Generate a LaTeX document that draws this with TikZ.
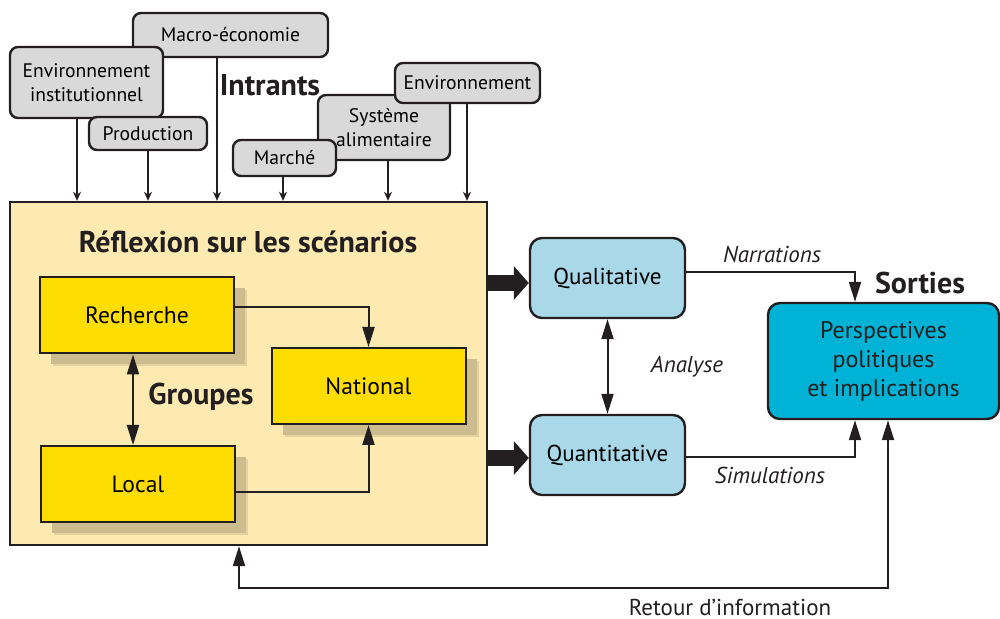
\documentclass[tikz,border=0pt]{standalone}
\usepackage{fontspec}
\setmainfont{PT Sans}
\usetikzlibrary{arrows.meta,shadows}
\definecolor{ink}{HTML}{231F20}
\definecolor{inbox}{HTML}{D9D9D9}
\definecolor{cream}{HTML}{FCEAB0}
\definecolor{gold}{HTML}{FFDD00}
\definecolor{shade}{HTML}{CDBD8E}
\definecolor{sky}{HTML}{A9D9E8}
\definecolor{cyan}{HTML}{00B3D6}
\tikzset{
  intrant/.style={draw=ink, fill=inbox, line width=1.2pt, rounded corners=4pt,
    align=center, inner sep=0pt, font=\fontsize{9.8}{12}\selectfont},
  groupe/.style={draw=ink, fill=gold, line width=1pt, minimum width=97pt,
    minimum height=38pt, font=\fontsize{11.8}{14}\selectfont,
    drop shadow={shadow xshift=6.5pt, shadow yshift=-6.5pt, fill=shade, opacity=0.5},
    drop shadow={shadow xshift=5.5pt, shadow yshift=-5.5pt, fill=shade, opacity=1}},
  methode/.style={draw=ink, fill=sky, line width=1.2pt, rounded corners=6pt,
    minimum width=77.5pt, minimum height=40pt, font=\fontsize{11.5}{14}\selectfont},
  ttl/.style={font=\fontsize{15}{17}\selectfont\bfseries, text=ink},
  lbl/.style={font=\fontsize{11.5}{14}\selectfont\itshape, text=ink},
  txt/.style={font=\fontsize{11.5}{14}\selectfont, text=ink, inner sep=1pt},
  inarr/.style={draw=ink, line width=0.8pt, -{Stealth[length=4.5pt,width=4pt]}},
  arr/.style={draw=ink, line width=1pt, -{Triangle[length=10pt,width=6pt]}},
  arrs/.style={draw=ink, line width=1pt, {Triangle[length=10pt,width=6pt]}-{Triangle[length=10pt,width=6pt]}},
  bigarr/.style={draw=ink, line width=8pt, -{Triangle[length=7.5pt,width=16.5pt]}},
}

\begin{document}
\begin{tikzpicture}[x=0.5pt, y=-0.5pt]
  \useasboundingbox (0,0) rectangle (1000,619);
  % inputs
  \node[intrant, minimum width=97.5pt, minimum height=22pt] (macro) at (230.5,35) {Macro-économie};
  \node[intrant, minimum width=76.5pt, minimum height=35.5pt] (envinst) at (86.5,82.5) {Environnement\\institutionnel};
  \node[intrant, minimum width=59pt, minimum height=16.5pt] (prod) at (148,133.5) {Production};
  \node[intrant, minimum width=66pt, minimum height=32.5pt] (sysal) at (384,127.5) {Système\\alimentaire};
  \node[intrant, minimum width=72.5pt, minimum height=20pt] (envir) at (467.5,83) {Environnement};
  \node[intrant, minimum width=51.5pt, minimum height=18pt] (marche) at (284.5,158) {Marché};
  \node[ttl] (intr) at (270,85) {Intrants};

  % scenario work
  \node[draw=ink, fill=cream, line width=1.2pt, minimum width=238.5pt, minimum height=171.5pt] (scen) at (248.5,373.5) {};
  \node[ttl] (refl) at (248,242) {Réflexion sur les scénarios};
  \node[groupe] (rech) at (137,315.5) {Recherche};
  \node[groupe] (natl) at (368.5,386) {National};
  \node[groupe] (local) at (138,484) {Local};
  \node[ttl] (grp) at (201,397) {Groupes};

  \foreach \n/\x in {envinst/77, prod/148, macro/217, marche/283, sysal/388, envir/467}
    \draw[inarr] (\x,0 |- \n.south) -- (\x,0 |- scen.north);

  \draw[arr] ([yshift=4.25pt]rech.east) -| (natl.north);
  \draw[arr] ([yshift=-4pt]local.east) -| (natl.south);
  \draw[arrs] ([xshift=-2pt]rech.south) -- ([xshift=-2pt]rech.south |- local.north);

  % methods and outputs
  \node[methode] (qual) at (607.5,278) {Qualitative};
  \node[methode] (quant) at (607.5,455) {Quantitative};
  \node[draw=ink, fill=cyan, line width=1.2pt, rounded corners=6pt, minimum width=115.5pt,
    minimum height=58pt, align=center, font=\fontsize{12}{14.5}\selectfont, text=ink] (persp) at (883.5,361)
    {Perspectives\\politiques\\et implications};
  \node[ttl] (sort) at (920,283) {Sorties};

  \draw[bigarr] ([yshift=-2.5pt]qual.west -| scen.east) -- ([yshift=-2.5pt]qual.west);
  \draw[bigarr] ([yshift=-1.5pt]quant.west -| scen.east) -- ([yshift=-1.5pt]quant.west);
  \draw[arrs] (qual.south) -- (quant.north);
  \draw[arr] ([yshift=3pt]qual.east) -| ([xshift=-14.25pt]persp.north);
  \draw[arr] ([yshift=-1pt]quant.east) -| ([xshift=-14.25pt]persp.south);

  \node[lbl] (narr) at (772,254) {Narrations};
  \node[lbl] (anal) at (687,367) {Analyse};
  \node[lbl] (simu) at (770,475) {Simulations};

  % feedback loop
  \coordinate (fb) at (0,588);
  \coordinate (fbin) at ([xshift=-4.75pt]scen.south);
  \draw[arrs] ([xshift=2.25pt]persp.south) |- (fbin |- fb) -- (fbin);
  \node[txt] (retour) at (730,607) {Retour d’information};
\end{tikzpicture}
\end{document}
